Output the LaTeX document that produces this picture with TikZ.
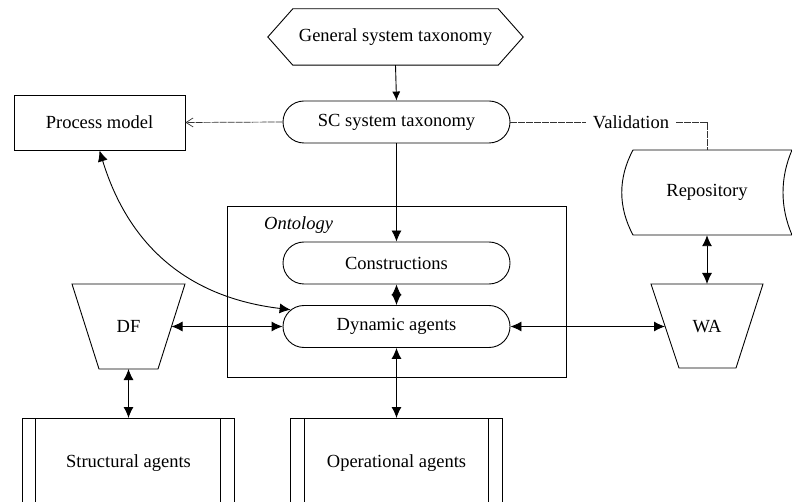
\documentclass[tikz,border=0pt]{standalone}
\usepackage{fontspec}
\setmainfont{Liberation Serif}
\usetikzlibrary{shapes.misc,arrows.meta}
\begin{document}
\begin{tikzpicture}[x=1pt,y=-1pt,
  every node/.style={font=\fontsize{18.5}{22}\selectfont, inner sep=0pt},
  line/.style={line width=0.9pt},
  thinline/.style={line width=0.7pt, black!80, dash pattern=on 7pt off 1pt},
  tip/.style={-{Latex[length=11pt,width=10pt]}},
  smalltip/.style={-{Latex[length=9pt,width=8pt]}},
  both/.style={{Latex[length=11pt,width=10pt]}-{Latex[length=11pt,width=10pt]}},
  pill/.style={draw, line, rounded rectangle, minimum width=227pt, minimum height=42pt},
  agentbox/.style={draw, line, anchor=north, minimum width=212pt, minimum height=90pt}
]
\useasboundingbox (0,0) rectangle (792,502);
\clip (0,0) rectangle (792,502);

% top taxonomy (hexagon outline around the node)
\node[minimum width=255pt, minimum height=56pt] (gst) at (395.5,37) {General system taxonomy};
\draw[line] (gst.west) -- ([xshift=25pt]gst.north west) -- ([xshift=-25pt]gst.north east)
  -- (gst.east) -- ([xshift=-25pt]gst.south east) -- ([xshift=25pt]gst.south west) -- cycle;

\node[pill] (sc) at (396.5,122) {SC system taxonomy};
\node[draw, line, minimum width=171pt, minimum height=55pt] (pm) at (99.5,122.5) {Process model};

% validation link to the repository
\node[inner xsep=7pt] (val) at (631,122) {Validation};
\node[minimum width=170pt, minimum height=85pt] (rep) at (707,192.5) {Repository};
\draw[line] (633,150) -- (792,150) .. controls (780,178) and (780,207) .. (792,235)
  -- (633,235) .. controls (618,207) and (618,178) .. (633,150) -- cycle;

% ontology frame
\node[draw, line, minimum width=339pt, minimum height=171pt] (onto) at (396.5,291.5) {};
\node[font=\fontsize{18.5}{22}\selectfont\itshape, anchor=west] (ontolabel) at (264,225) {Ontology};
\node[pill] (con) at (396.5,263) {Constructions};
\node[pill] (dyn) at (396.5,326.5) {Dynamic agents};

% filters (inverted trapezoids)
\node (df) at (128.5,326.5) {DF};
\draw[line] (72,284) -- (185,284) -- (158,369) -- (99,369) -- cycle;
\coordinate (dfE) at (171.5,326.5);
\coordinate (dfS) at (128.5,369);
\node (wa) at (707,326.5) {WA};
\draw[line] (651,284) -- (763,284) -- (736,368) -- (679,368) -- cycle;
\coordinate (waW) at (665,326.5);
\coordinate (waN) at (707,284);

% agent groups
\node[agentbox] (sa) at (128.5,418) {Structural agents};
\draw[line] ([xshift=13pt]sa.north west) -- ([xshift=13pt]sa.south west);
\draw[line] ([xshift=-15pt]sa.north east) -- ([xshift=-15pt]sa.south east);
\node[agentbox] (op) at (396.5,418) {Operational agents};
\draw[line] ([xshift=14pt]op.north west) -- ([xshift=14pt]op.south west);
\draw[line] ([xshift=-15pt]op.north east) -- ([xshift=-15pt]op.south east);

% connectors
\draw[line, smalltip] (gst.south) -- (sc.north);
\draw[thinline, -{Straight Barb[length=7pt,width=9pt]}] (sc.west) -- (pm.east);
\draw[thinline] (sc.east) -- (val.west);
\draw[thinline] (val.east) -| (rep.north);
\draw[line, tip] (sc.south) -- (con.north);
\draw[line, both] (con.south) -- (dyn.north);
\draw[line, both] (dyn.west) -- (dfE);
\draw[line, both] (dyn.east) -- (waW);
\draw[line, both] (dyn.south) -- (op.north);
\draw[line, both] (dfS) -- (dfS |- sa.north);
\draw[line, both] (rep.south) -- (waN);
\draw[line, both] (pm.south) .. controls +(30,98) and +(-100,-12) .. (dyn.171);
\end{tikzpicture}
\end{document}
